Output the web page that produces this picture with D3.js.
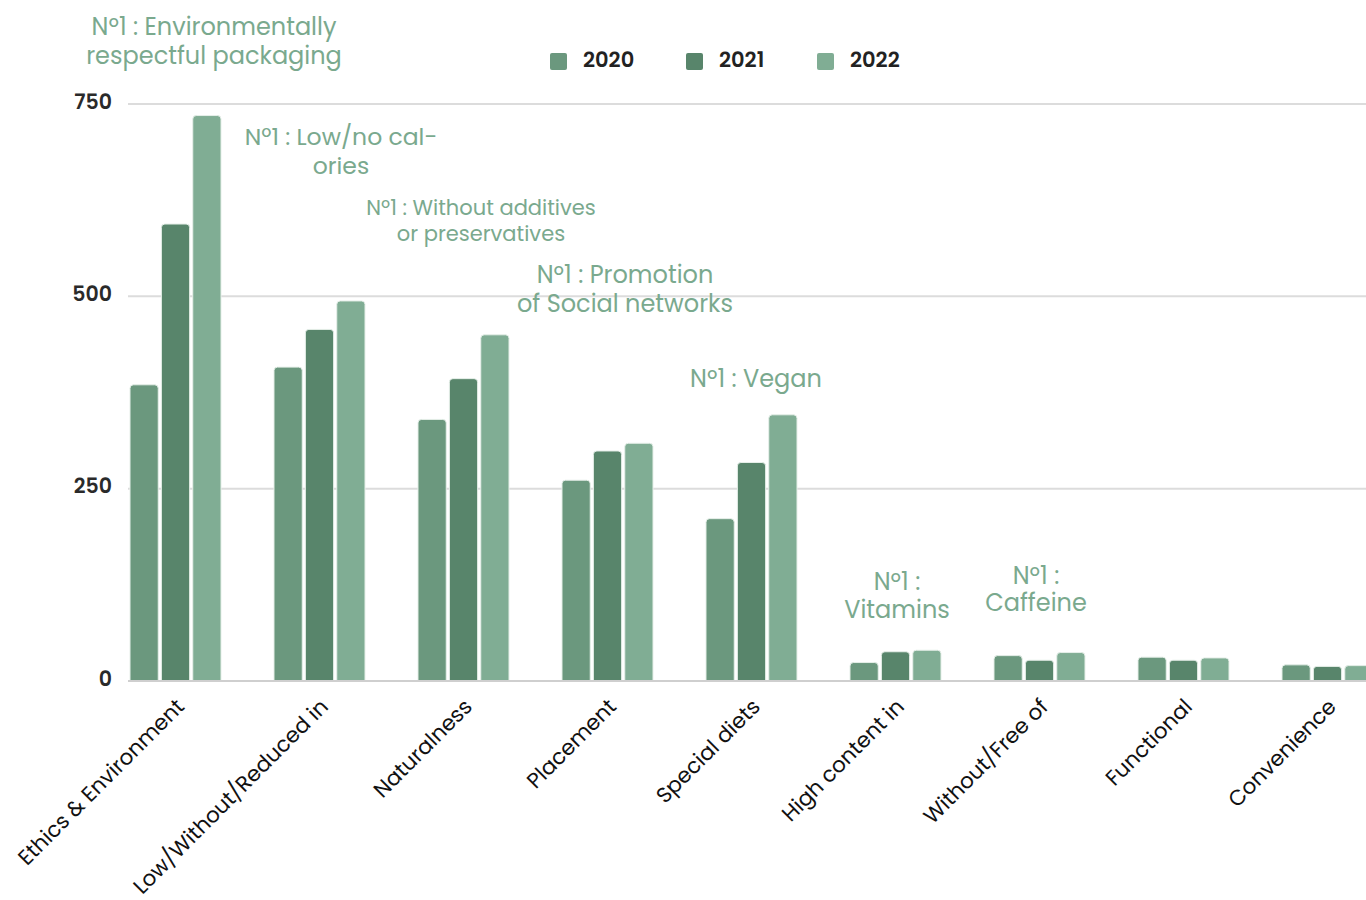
<!DOCTYPE html>
<html><head><meta charset="utf-8">
<script src="https://cdn.jsdelivr.net/npm/d3@7"></script>
<style>body{margin:0;background:#fff;overflow:hidden}svg{display:block}</style>
</head><body>
<svg id="chart" width="1366" height="900"></svg>
<script>
const categories = ["Ethics & Environment","Low/Without/Reduced in","Naturalness","Placement","Special diets","High content in","Without/Free of","Functional","Convenience"];
const years = ["2020","2021","2022"];
const values2020 = [385,408,340,261,211,24,33,31,21];
const values2021 = [594,457,393,299,284,38,27,27,19];
const values2022 = [735,494,450,309,346,40,37,30,20];
const yTicks = [0,250,500,750];
const annotations = [
  ["Nº1 : Environmentally","respectful packaging"],
  ["Nº1 : Low/no cal-","ories"],
  ["Nº1 : Without additives","or preservatives"],
  ["Nº1 : Promotion","of Social networks"],
  ["Nº1 : Vegan"],
  ["Nº1 :","Vitamins"],
  ["Nº1 :","Caffeine"]
];
const colors = ["#6b987e","#58856b","#80ad94"];

const svg = d3.select("#chart");
const font = "Poppins, 'Noto Sans', 'Open Sans', sans-serif";
const y = d3.scaleLinear().domain([0,750]).range([681,104]);
const x = d3.scaleBand().domain(categories).range([130,1373]).paddingInner(0.368).paddingOuter(0);
const xs = d3.scaleBand().domain(years).range([0,x.bandwidth()]).paddingInner(0.1).paddingOuter(0);
const series = [values2020, values2021, values2022];

// grid
svg.append("g").selectAll("line").data(yTicks.filter(d=>d>0)).join("line")
  .attr("x1",128).attr("x2",1366).attr("y1",d=>y(d)).attr("y2",d=>y(d))
  .attr("stroke","#dcdcdc").attr("stroke-width",2);

// y axis
const yAxis = svg.append("g").attr("transform","translate(112,0)")
  .call(d3.axisLeft(y).tickValues(yTicks).tickSize(0).tickPadding(0));
yAxis.select(".domain").remove();
yAxis.selectAll("text").attr("font-family",font).attr("font-size",20.5).attr("font-weight",600)
  .attr("fill","#2a2a2a").attr("dy","0.2em");

// bars
const data = [];
categories.forEach((c,i)=>years.forEach((yr,j)=>data.push({c,yr,v:series[j][i],j})));
const r = 3.5;
svg.append("g").selectAll("path").data(data).join("path")
  .attr("d",d=>{
    const x0 = x(d.c)+xs(d.yr), w = xs.bandwidth(), y0 = y(d.v), y1 = y(0);
    return `M${x0},${y1}V${y0+r}Q${x0},${y0} ${x0+r},${y0}H${x0+w-r}Q${x0+w},${y0} ${x0+w},${y0+r}V${y1}Z`;
  })
  .attr("fill",d=>colors[d.j]).attr("stroke","#e6efe9").attr("stroke-width",1);

// baseline
svg.append("line").attr("x1",128).attr("x2",1366).attr("y1",y(0)).attr("y2",y(0))
  .attr("stroke","#cfcfcf").attr("stroke-width",2);

// x labels
const xAxis = svg.append("g").attr("transform",`translate(0,${y(0)})`)
  .call(d3.axisBottom(x).tickSize(0).tickPadding(0));
xAxis.select(".domain").remove();
xAxis.selectAll("text")
  .attr("font-family",font).attr("font-size",21.5).attr("fill","#111")
  .attr("text-anchor","end").attr("dy",0)
  .attr("transform",`translate(10,27) rotate(-45)`);

// legend
const legX = [550,686,817];
const leg = svg.append("g").selectAll("g").data(years).join("g")
  .attr("transform",(d,i)=>`translate(${legX[i]},53)`);
leg.append("rect").attr("width",17).attr("height",17).attr("rx",2).attr("fill",(d,i)=>colors[i]);
leg.append("text").attr("x",33).attr("y",14).text(d=>d)
  .attr("font-family",font).attr("font-size",21).attr("font-weight",600).attr("fill","#222");

// annotations: [centerX, firstBaselineY, fontSize, lineStep]
const annPos = [[214,35,24,29],[341,145,23.5,29],[481,215,21,26],[625,283,24,29],[756,387,24,29],[897,590,24,28],[1036,584,24,27]];
const annLines = [];
annotations.forEach((lines,i)=>lines.forEach((t,k)=>annLines.push({t,i,k})));
svg.append("g").selectAll("text").data(annLines).join("text")
  .attr("font-family",font).attr("fill","#7aa98e").attr("text-anchor","middle")
  .attr("font-size",d=>annPos[d.i][2])
  .attr("x",d=>annPos[d.i][0])
  .attr("y",d=>annPos[d.i][1]+d.k*annPos[d.i][3])
  .text(d=>d.t);
</script>
</body></html>
